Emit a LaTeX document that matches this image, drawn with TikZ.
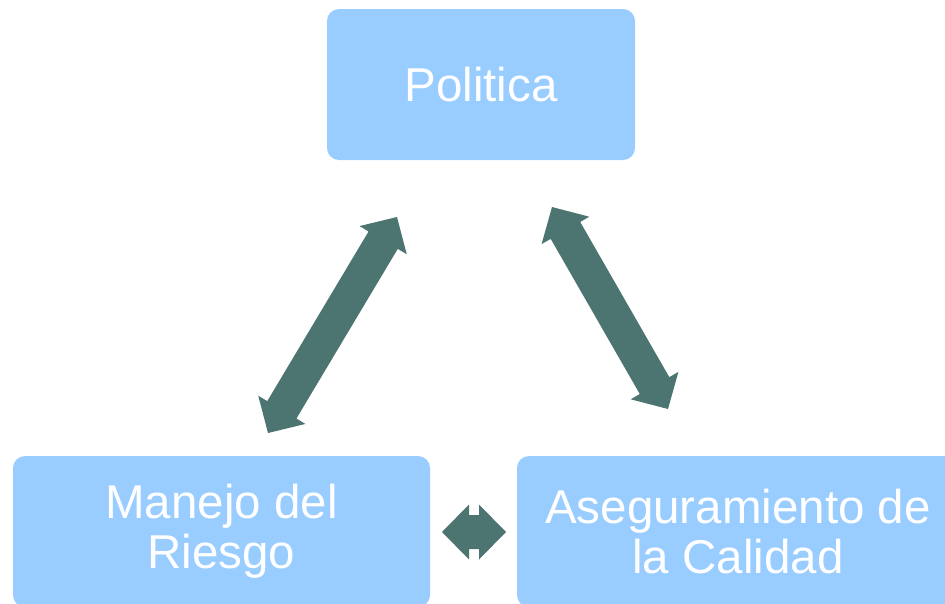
\documentclass[tikz,border=0pt]{standalone}
\usepackage{fontspec}
\setmainfont{Liberation Sans}
\usetikzlibrary{calc}
\definecolor{boxblue}{RGB}{153,204,255}
\definecolor{arrowteal}{RGB}{76,117,114}
\tikzset{
  box/.style={fill=boxblue, rounded corners=12pt, inner sep=0pt, align=center,
    text=white, font=\fontsize{47.5}{50}\selectfont, minimum height=151pt},
  arrowfill/.style={fill=arrowteal}
}
\newcommand{\twohead}[2]{%
  \fill[arrowfill] (#1)
    -- ($(#1)!27pt!(#2)!27.5pt!90:(#2)$)
    -- ($(#1)!27pt!(#2)!17pt!90:(#2)$)
    -- ($(#2)!27pt!(#1)!17pt!-90:(#1)$)
    -- ($(#2)!27pt!(#1)!27.5pt!-90:(#1)$)
    -- (#2)
    -- ($(#2)!27pt!(#1)!27.5pt!90:(#1)$)
    -- ($(#2)!27pt!(#1)!17pt!90:(#1)$)
    -- ($(#1)!27pt!(#2)!17pt!-90:(#2)$)
    -- ($(#1)!27pt!(#2)!27.5pt!-90:(#2)$)
    -- cycle;}
\begin{document}
\begin{tikzpicture}[x=1pt,y=-1pt]
\useasboundingbox (0,0) rectangle (945,603);
\begin{scope}
\clip (0,0) rectangle (945,603);
\node[box, minimum width=308pt] (pol) at (481,84.5) {Politica};
\node[box, minimum width=417pt] (man) at (221.5,531.5) {Manejo del\\Riesgo};
\node[box, minimum width=442pt] (ase) at (738,531.5) {Aseguramiento de\\la Calidad};
\end{scope}
\coordinate (l1) at (268,433);
\coordinate (l2) at (397,217);
\coordinate (r1) at (552,207);
\coordinate (r2) at (668,409);
\coordinate (h1) at (442,532);
\coordinate (h2) at (506,532);
\twohead{l1}{l2}
\twohead{r1}{r2}
\twohead{h1}{h2}
\end{tikzpicture}
\end{document}
